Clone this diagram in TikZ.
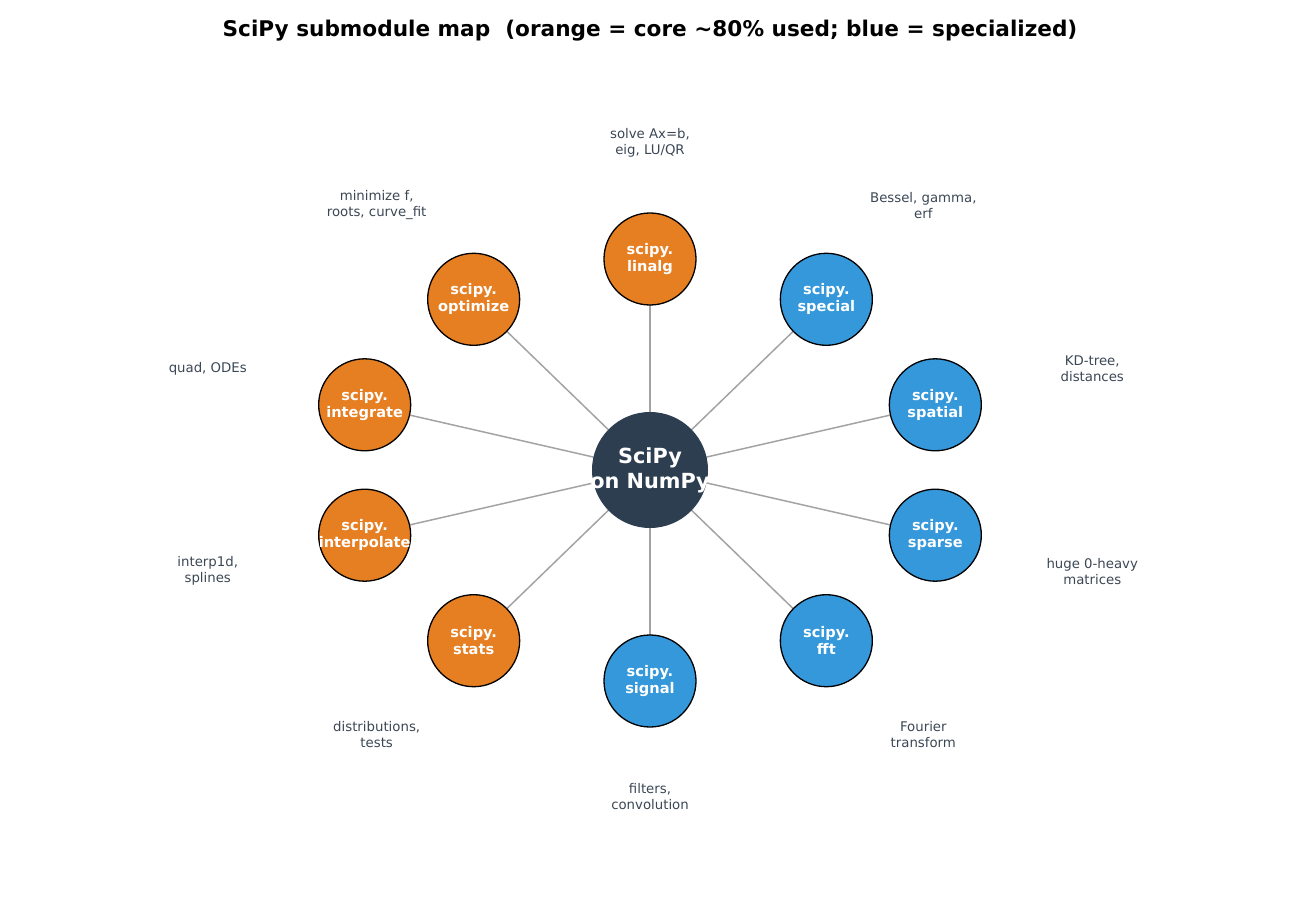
\documentclass[tikz,border=0pt]{standalone}
\usepackage{fontspec}
\setmainfont{DejaVu Sans}
\usetikzlibrary{backgrounds}
\definecolor{coreorange}{HTML}{E67E22}
\definecolor{specblue}{HTML}{3498DB}
\definecolor{hubnavy}{HTML}{2C3E50}
\definecolor{spokegray}{HTML}{A3A3A3}
\definecolor{notegray}{HTML}{3B4755}
\tikzset{
    every node/.style={inner sep=0pt},
    hub/.style={circle, fill=hubnavy, minimum size=116pt},
    hubtext/.style={text=white, align=center, font=\bfseries\fontsize{20.8}{25}\selectfont},
    core/.style={circle, draw=black, line width=1.3pt, fill=coreorange, minimum size=92pt},
    spec/.style={core, fill=specblue},
    modtext/.style={text=white, align=center, font=\bfseries\fontsize{14.6}{17}\selectfont},
    note/.style={text=notegray, align=center, font=\fontsize{13.3}{16}\selectfont},
    spoke/.style={draw=spokegray, line width=1.5pt}
}
\begin{document}
\begin{tikzpicture}[x=1pt, y=1pt]
    \useasboundingbox (-650,-440) rectangle (650,470);
    \node[font=\bfseries\fontsize{21.6}{25}\selectfont] (title) at (0,439)
        {SciPy submodule map\ \ (orange = core \textasciitilde80\% used; blue = specialized)};

    % hub and submodules
    \node[hub, label={[hubtext]center:{SciPy\\on NumPy}}] (hub) at (0,0) {};
    \node[core, label={[modtext]center:{scipy.\\linalg}}] (linalg) at (90:300 and 211) {};
    \node[spec, label={[modtext]center:{scipy.\\special}}] (special) at (54:300 and 211) {};
    \node[spec, label={[modtext]center:{scipy.\\spatial}}] (spatial) at (18:300 and 211) {};
    \node[spec, label={[modtext]center:{scipy.\\sparse}}] (sparse) at (-18:300 and 211) {};
    \node[spec, label={[modtext]center:{scipy.\\fft}}] (fft) at (-54:300 and 211) {};
    \node[spec, label={[modtext]center:{scipy.\\signal}}] (signal) at (-90:300 and 211) {};
    \node[core, label={[modtext]center:{scipy.\\stats}}] (stats) at (-126:300 and 211) {};
    \node[core, label={[modtext]center:{scipy.\\interpolate}}] (interpolate) at (-162:300 and 211) {};
    \node[core, label={[modtext]center:{scipy.\\integrate}}] (integrate) at (162:300 and 211) {};
    \node[core, label={[modtext]center:{scipy.\\optimize}}] (optimize) at (126:300 and 211) {};

    % what each one is for
    \node[note] (n-linalg) at (90:465 and 327) {solve Ax=b,\\eig, LU/QR};
    \node[note] (n-special) at (54:465 and 327) {Bessel, gamma,\\erf};
    \node[note] (n-spatial) at (18:465 and 327) {KD-tree,\\distances};
    \node[note] (n-sparse) at (-18:465 and 327) {huge 0-heavy\\matrices};
    \node[note] (n-fft) at (-54:465 and 327) {Fourier\\transform};
    \node[note] (n-signal) at (-90:465 and 327) {filters,\\convolution};
    \node[note] (n-stats) at (-126:465 and 327) {distributions,\\tests};
    \node[note] (n-interpolate) at (-162:465 and 327) {interp1d,\\splines};
    \node[note] (n-integrate) at (162:465 and 327) {quad, ODEs};
    \node[note] (n-optimize) at (126:465 and 327) {minimize f,\\roots, curve\_fit};

    \begin{pgfonlayer}{background}
        \foreach \m in {linalg, special, spatial, sparse, fft, signal, stats, interpolate, integrate, optimize}
            \draw[spoke] (hub.center) -- (\m.center);
    \end{pgfonlayer}
\end{tikzpicture}
\end{document}
